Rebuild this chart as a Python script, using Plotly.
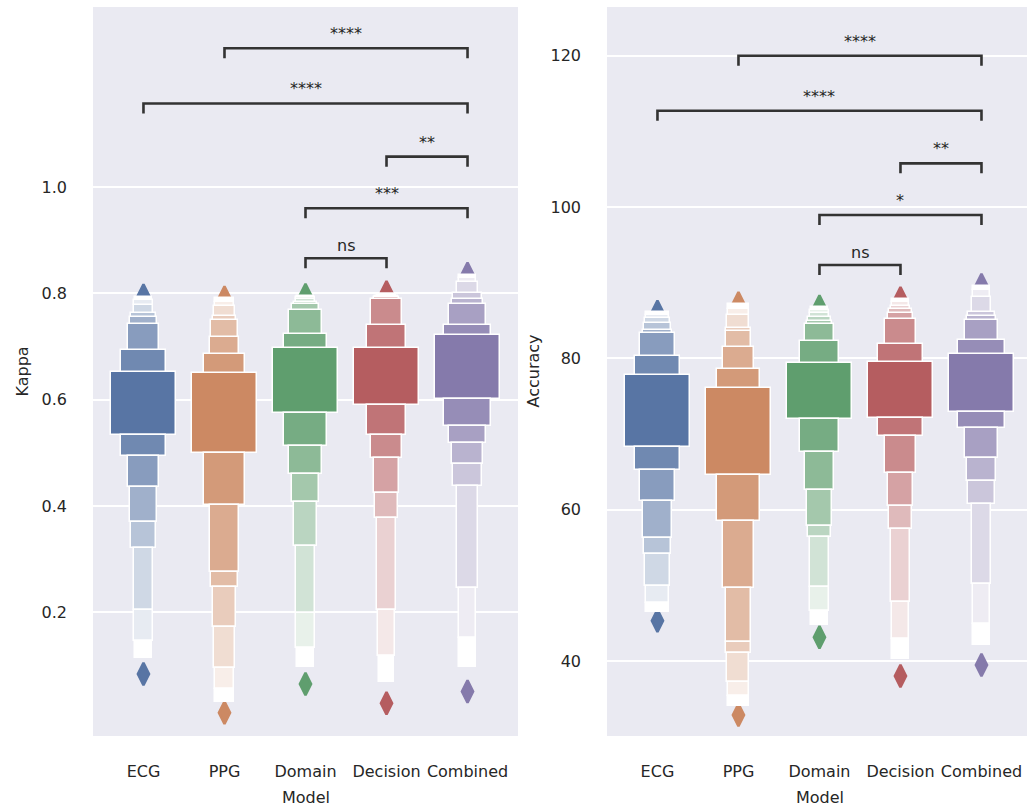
import plotly.graph_objects as go

# ---------------- data ----------------
models = ["ECG", "PPG", "Domain", "Decision", "Combined"]

# letter-value edges, index 0 = quartile box edge, then outward levels
kappa_upper = [
    [0.6525, 0.6934, 0.7432, 0.7554, 0.7639, 0.7789, 0.7874, 0.7940],
    [0.6507, 0.6858, 0.7184, 0.7498, 0.7579, 0.7761, 0.7842, 0.7906],
    [0.6966, 0.7229, 0.7692, 0.7800, 0.7842, 0.7893, 0.7930, 0.7955],
    [0.6977, 0.7404, 0.7893, 0.7930, 0.7955, 0.7968, 0.7981, 0.7992],
    [0.7216, 0.7398, 0.7804, 0.7902, 0.8015, 0.8213, 0.8288, 0.8344],
]
kappa_lower = [
    [0.5335, 0.4946, 0.4363, 0.3704, 0.3210, 0.2044, 0.1466, 0.1141],
    [0.4991, 0.4018, 0.2764, 0.2482, 0.1718, 0.0947, 0.0558, 0.0319],
    [0.5754, 0.5134, 0.4601, 0.4080, 0.3253, 0.1982, 0.1323, 0.0966],
    [0.5899, 0.5335, 0.4908, 0.4239, 0.3768, 0.2044, 0.1178, 0.0695],
    [0.6006, 0.5504, 0.5179, 0.4784, 0.4376, 0.2452, 0.1511, 0.0977],
]
kappa_flier_high = [0.796, 0.792, 0.797, 0.802, 0.837]
kappa_flier_low = [0.084, 0.011, 0.065, 0.029, 0.051]

acc_upper = [
    [77.79, 80.30, 83.30, 83.78, 84.63, 85.37, 85.72, 86.08],
    [76.12, 78.59, 81.45, 83.61, 84.04, 85.72, 86.55, 87.14],
    [79.42, 82.29, 84.49, 84.97, 85.42, 85.95, 86.38, 86.78],
    [79.55, 81.89, 85.19, 85.95, 86.48, 86.91, 87.40, 87.80],
    [80.61, 82.42, 85.06, 85.59, 86.16, 88.06, 89.03, 89.55],
]
acc_lower = [
    [68.32, 65.20, 61.18, 56.25, 54.18, 49.91, 47.70, 46.43],
    [64.62, 58.46, 49.68, 42.55, 41.09, 37.22, 35.33, 34.09],
    [71.94, 67.66, 62.60, 57.88, 56.42, 49.82, 46.61, 44.76],
    [72.07, 69.73, 64.80, 60.52, 57.44, 47.75, 42.87, 40.22],
    [72.94, 70.83, 66.78, 63.82, 60.71, 50.17, 44.93, 42.11],
]
acc_flier_high = [86.16, 87.27, 86.85, 87.93, 89.69]
acc_flier_low = [45.32, 32.86, 43.13, 38.01, 39.47]

# significance brackets
kappa_pairs = [("PPG", "Combined"), ("ECG", "Combined"), ("Decision", "Combined"),
               ("Domain", "Combined"), ("Domain", "Decision")]
kappa_bracket_y = [1.261, 1.157, 1.057, 0.960, 0.866]
kappa_labels = ["****", "****", "**", "***", "ns"]

acc_pairs = [("PPG", "Combined"), ("ECG", "Combined"), ("Decision", "Combined"),
             ("Domain", "Combined"), ("Domain", "Decision")]
acc_bracket_y = [119.99, 112.72, 105.77, 98.94, 92.33]
acc_labels = ["****", "****", "**", "*", "ns"]

kappa_ticks = [0.2, 0.4, 0.6, 0.8, 1.0]
acc_ticks = [40, 60, 80, 100, 120]

# ---------------- style ----------------
colors = ["#5875a4", "#cc8963", "#5f9e6e", "#b55d60", "#857aab"]
W, H = 1027, 811
FONT = "DejaVu Sans"
TXT = "#262626"
BG = "#eaeaf2"
BOX_W = 0.8
WIDTH_EXP = 0.75
LEG_PX = 10

left_px = (93, 518)
right_px = (607, 1027)
y_px = (7, 736)
kappa_range = [-0.0326, 1.3385]
acc_range = [30.09, 126.43]
kappa_xrange = [-0.623, 4.623]
acc_xrange = [-0.623, 4.562]


def mix(hexc, t):
    r, g, b = int(hexc[1:3], 16), int(hexc[3:5], 16), int(hexc[5:7], 16)
    return "rgb(%d,%d,%d)" % tuple(round(c + (255 - c) * t) for c in (r, g, b))


fig = go.Figure()


def add_panel(upper, lower, fh, fl, pairs, by, labels, main_x, main_y, ov_x, ov_y, yr):
    # fliers (underneath the boxes)
    for i in range(len(models)):
        fig.add_trace(go.Scatter(
            x=[i, i], y=[fh[i], fl[i]], mode="markers", xaxis=main_x, yaxis=main_y,
            marker=dict(symbol="diamond-tall", size=16, color=colors[i],
                        line=dict(color=colors[i], width=2.5)),
            showlegend=False, hoverinfo="skip"))
    # letter-value boxes
    for i in range(len(models)):
        u, l = upper[i], lower[i]
        n = len(u)
        hmain = u[0] - l[0]
        xs, bases, heights, widths, cols = [], [], [], [], []
        for j in range(n):
            w = BOX_W * (hmain / (u[j] - l[j])) ** WIDTH_EXP
            c = mix(colors[i], j / (n - 1))
            if j == 0:
                segs = [(l[0], u[0])]
            else:
                segs = [(u[j - 1], u[j]), (l[j], l[j - 1])]
            for a, b in segs:
                xs.append(i)
                bases.append(a)
                heights.append(b - a)
                widths.append(w)
                cols.append(c)
        fig.add_trace(go.Bar(
            x=xs, y=heights, base=bases, width=widths, xaxis=ov_x, yaxis=ov_y,
            marker=dict(color=cols, line=dict(color="white", width=1.5)),
            showlegend=False, hoverinfo="skip"))
    # brackets
    leg = LEG_PX * (yr[1] - yr[0]) / (y_px[1] - y_px[0])
    for (a, b), yy, lab in zip(pairs, by, labels):
        xa, xb = models.index(a), models.index(b)
        fig.add_trace(go.Scatter(
            x=[xa, xa, xb, xb], y=[yy - leg, yy, yy, yy - leg], mode="lines",
            xaxis=main_x, yaxis=main_y,
            line=dict(color="#333333", width=2.6),
            showlegend=False, hoverinfo="skip"))
        fig.add_annotation(
            x=(xa + xb) / 2, y=yy, xref=main_x, yref=main_y, text=lab,
            showarrow=False, yanchor="bottom", yshift=(1 if lab == "ns" else 3),
            font=dict(family=FONT, size=16, color=TXT))


add_panel(kappa_upper, kappa_lower, kappa_flier_high, kappa_flier_low,
          kappa_pairs, kappa_bracket_y, kappa_labels, "x", "y", "x3", "y3", kappa_range)
add_panel(acc_upper, acc_lower, acc_flier_high, acc_flier_low,
          acc_pairs, acc_bracket_y, acc_labels, "x2", "y2", "x4", "y4", acc_range)

ydom = [1 - y_px[1] / H, 1 - y_px[0] / H]
ldom = [left_px[0] / W, left_px[1] / W]
rdom = [right_px[0] / W, right_px[1] / W]

tickfont = dict(family=FONT, size=16, color=TXT)
xcommon = dict(tickvals=list(range(len(models))), ticktext=models, showgrid=False,
               zeroline=False, showline=False, ticks="", tickfont=tickfont,
               ticklabelstandoff=24)
ycommon = dict(showgrid=True, gridcolor="white", gridwidth=1.6, zeroline=False,
               showline=False, ticks="", tickfont=tickfont, ticklabelstandoff=25)

fig.update_layout(
    width=W, height=H, margin=dict(l=0, r=0, t=0, b=0),
    paper_bgcolor="white", plot_bgcolor=BG, barmode="overlay", bargap=0,
    font=dict(family=FONT, color=TXT),
    xaxis=dict(domain=ldom, range=kappa_xrange, anchor="y", **xcommon),
    yaxis=dict(domain=ydom, range=kappa_range, anchor="x", tickvals=kappa_ticks,
               tickformat=".1f", **ycommon),
    xaxis2=dict(domain=rdom, range=acc_xrange, anchor="y2", **xcommon),
    yaxis2=dict(domain=ydom, range=acc_range, anchor="x2", tickvals=acc_ticks,
                tickformat="d", **ycommon),
    xaxis3=dict(overlaying="x", range=kappa_xrange, visible=False, anchor="y3"),
    yaxis3=dict(overlaying="y", range=kappa_range, visible=False, anchor="x3"),
    xaxis4=dict(overlaying="x2", range=acc_xrange, visible=False, anchor="y4"),
    yaxis4=dict(overlaying="y2", range=acc_range, visible=False, anchor="x4"),
)

lab_font = dict(family=FONT, size=16, color=TXT)
ymid = 1 - (y_px[0] + y_px[1]) / 2 / H
fig.add_annotation(text="Kappa", x=22 / W, y=ymid, xref="paper", yref="paper",
                   xanchor="center", yanchor="middle",
                   textangle=-90, showarrow=False, font=lab_font)
fig.add_annotation(text="Accuracy", x=533 / W, y=ymid, xref="paper", yref="paper",
                   xanchor="center", yanchor="middle",
                   textangle=-90, showarrow=False, font=lab_font)
fig.add_annotation(text="Model", x=305.5 / W, y=1 - 797 / H, xref="paper", yref="paper",
                   xanchor="center", yanchor="middle", showarrow=False, font=lab_font)
fig.add_annotation(text="Model", x=819.5 / W, y=1 - 797 / H, xref="paper", yref="paper",
                   xanchor="center", yanchor="middle", showarrow=False, font=lab_font)

fig.write_html("out.html")
